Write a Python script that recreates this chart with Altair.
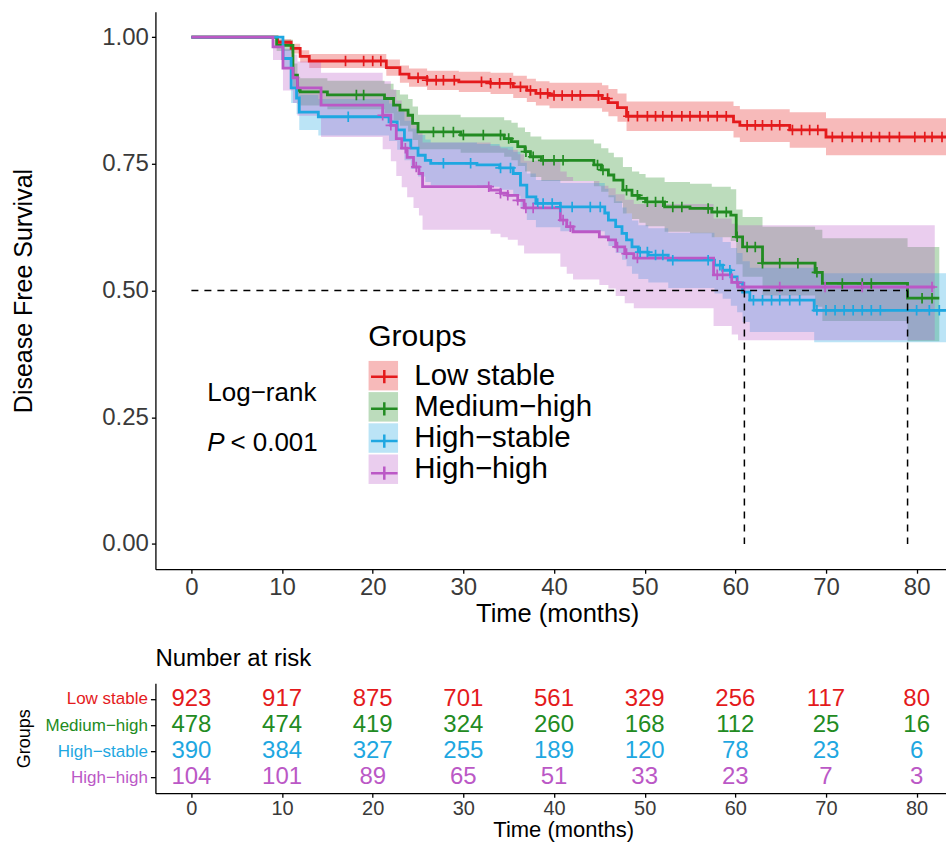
import altair as alt
import pandas as pd

FONT = "Liberation Sans"
groups = ["Low stable", "Medium−high", "High−stable", "High−high"]
keys = ["k1", "k2", "k3", "k4"]
colors = ["#E41A1C", "#228B22", "#1EA7E1", "#BB58C6"]

# ---- Kaplan-Meier steps ----
low_t = [0, 9.5, 11, 12, 13, 21.5, 23, 24, 26, 29.5, 33, 35.5, 37, 38, 39.5, 45.3, 46, 47, 48, 59.8, 60.5, 66, 70]
low_s = [1, 0.99, 0.978, 0.962, 0.953, 0.94, 0.927, 0.92, 0.915, 0.912, 0.909, 0.902, 0.895, 0.889, 0.885, 0.879, 0.871, 0.861, 0.844, 0.833, 0.826, 0.817, 0.803]
low_lo = [1, 0.983, 0.968, 0.950, 0.939, 0.924, 0.910, 0.902, 0.896, 0.892, 0.888, 0.880, 0.872, 0.865, 0.860, 0.853, 0.844, 0.833, 0.815, 0.802, 0.793, 0.782, 0.767]
low_up = [1, 0.996, 0.987, 0.974, 0.967, 0.956, 0.944, 0.938, 0.934, 0.932, 0.930, 0.924, 0.918, 0.913, 0.910, 0.905, 0.898, 0.889, 0.873, 0.864, 0.858, 0.852, 0.840]
low_end = 84
low_cens = [17, 19, 20, 20.9, 25, 26, 27, 27.8, 29, 32, 33, 34, 35.2, 36.3, 37.4, 38.5, 39.3, 40, 40.9, 42, 42.9, 44.9,
            45.9, 48.2, 49.2, 50.3, 51.2, 52, 53, 54.1, 55, 56.1, 57, 58, 59, 61.3, 62.2, 63, 64, 64.9, 66.3, 67.3,
            68.2, 69.1, 70.7, 71.8, 72.9, 74, 75, 75.9, 77, 78.1, 79.8, 80.9, 81.7, 82.8]

med_t = [0, 9.4, 11.2, 11.7, 12, 15, 21.3, 22.3, 23, 23.9, 24.4, 25, 29.7, 34.5, 35.3, 36, 36.8, 37.4, 38.6, 44.4, 45.2,
         46, 46.6, 47.6, 48.6, 49.4, 50.1, 52.2, 55, 57.4, 59.5, 60.1, 60.8, 63, 68.8, 69.6, 79]
med_s = [1, 0.984, 0.925, 0.895, 0.892, 0.886, 0.879, 0.866, 0.856, 0.846, 0.83, 0.813, 0.807, 0.8, 0.794, 0.784, 0.774,
         0.764, 0.757, 0.748, 0.738, 0.728, 0.718, 0.698, 0.688, 0.682, 0.675, 0.665, 0.662, 0.655, 0.649, 0.606, 0.586,
         0.554, 0.536, 0.514, 0.485]
med_lo = [1, 0.973, 0.902, 0.868, 0.865, 0.858, 0.85, 0.836, 0.825, 0.814, 0.797, 0.779, 0.772, 0.764, 0.757, 0.746,
          0.735, 0.724, 0.716, 0.706, 0.695, 0.684, 0.673, 0.652, 0.641, 0.634, 0.627, 0.616, 0.613, 0.605, 0.598, 0.552,
          0.527, 0.49, 0.468, 0.44, 0.40]
med_up = [1, 0.995, 0.948, 0.922, 0.919, 0.914, 0.908, 0.896, 0.887, 0.878, 0.863, 0.847, 0.842, 0.836, 0.831, 0.822,
          0.813, 0.804, 0.798, 0.79, 0.781, 0.772, 0.763, 0.744, 0.735, 0.73, 0.723, 0.714, 0.711, 0.705, 0.70, 0.66,
          0.645, 0.626, 0.62, 0.603, 0.586]
med_end = 82.5
med_cens = [18.2, 19, 26.7, 27.8, 28.9, 30, 32.2, 34.1, 35, 36.9, 37.7, 38.8, 40, 41, 44.8, 45.4, 48, 49.2, 50.3, 51.2,
            52, 53.1, 54.1, 57, 58, 59, 60.2, 61.3, 62.2, 63, 64.9, 66.9, 69, 71.8, 74, 75, 80.6, 81.7]

hs_t = [0, 10.1, 11, 11.6, 11.9, 14, 21.8, 22.7, 23.5, 24.2, 25, 25.8, 26.4, 31.5, 34, 35.5, 36.3, 37, 38, 40.7, 45.6,
        46, 46.8, 47.5, 48, 48.6, 49.3, 50.4, 52.6, 57.7, 58.6, 59.5, 60.2, 60.8, 61.6, 68.7]
hs_s = [1, 0.958, 0.90, 0.88, 0.852, 0.843, 0.833, 0.817, 0.797, 0.781, 0.767, 0.757, 0.751, 0.748, 0.742, 0.731, 0.708,
        0.685, 0.672, 0.665, 0.653, 0.639, 0.626, 0.613, 0.60, 0.586, 0.576, 0.57, 0.56, 0.55, 0.54, 0.527, 0.515, 0.497,
        0.481, 0.461]
hs_lo = [1, 0.938, 0.870, 0.848, 0.817, 0.806, 0.795, 0.778, 0.757, 0.740, 0.725, 0.714, 0.708, 0.705, 0.699, 0.687,
         0.663, 0.639, 0.625, 0.617, 0.602, 0.588, 0.574, 0.561, 0.548, 0.533, 0.523, 0.516, 0.505, 0.494, 0.484, 0.470,
         0.457, 0.438, 0.418, 0.398]
hs_up = [1, 0.976, 0.928, 0.911, 0.886, 0.878, 0.869, 0.854, 0.835, 0.820, 0.807, 0.798, 0.792, 0.789, 0.784, 0.774,
         0.752, 0.731, 0.718, 0.712, 0.701, 0.688, 0.676, 0.664, 0.652, 0.638, 0.629, 0.623, 0.614, 0.605, 0.596, 0.584,
         0.574, 0.558, 0.545, 0.534]
hs_end = 84
hs_cens = [17.3, 27.8, 30.8, 34.1, 35.2, 38.2, 38.8, 39.8, 40.7, 42, 44, 45.1, 49.5, 50.3, 51.2, 52, 53.1, 57, 58.3,
           59.4, 62, 63, 64, 64.9, 66, 67.1, 69, 70, 71, 72, 73, 74, 75, 76, 80, 81.4, 82.5]

hh_t = [0, 9, 10.1, 11.2, 11.7, 14.3, 21.1, 22, 22.6, 23.2, 23.8, 24.5, 25.1, 25.5, 33, 34.1, 34.9, 36, 36.7, 40.7, 41.4,
        42.1, 45, 46, 46.8, 47.8, 48.8, 57.6, 59.6, 60.3]
hh_s = [1, 0.981, 0.939, 0.92, 0.90, 0.866, 0.846, 0.826, 0.80, 0.781, 0.763, 0.744, 0.731, 0.705, 0.698, 0.692, 0.688,
        0.678, 0.663, 0.639, 0.626, 0.616, 0.606, 0.60, 0.586, 0.573, 0.564, 0.531, 0.516, 0.507]
hh_lo = [1, 0.955, 0.895, 0.870, 0.845, 0.803, 0.779, 0.755, 0.726, 0.704, 0.684, 0.663, 0.648, 0.620, 0.612, 0.605,
         0.600, 0.589, 0.573, 0.547, 0.533, 0.522, 0.511, 0.504, 0.489, 0.475, 0.465, 0.430, 0.413, 0.402]
hh_up = [1, 0.995, 0.977, 0.966, 0.952, 0.930, 0.913, 0.897, 0.875, 0.859, 0.843, 0.826, 0.815, 0.792, 0.786, 0.781,
         0.778, 0.769, 0.756, 0.735, 0.724, 0.716, 0.707, 0.702, 0.690, 0.679, 0.671, 0.642, 0.632, 0.629]
hh_end = 82
hh_cens = [21.1, 22, 23.6, 24.8, 32.8, 34.1, 34.9, 36, 36.9, 37.7, 41, 41.8, 47, 48, 49.2, 58, 58.6, 60.2, 61, 64.9,
           69.9, 74, 81.7]

# ---- Number at risk ----
risk_times = [0, 10, 20, 30, 40, 50, 60, 70, 80]
risk_low = [923, 917, 875, 701, 561, 329, 256, 117, 80]
risk_med = [478, 474, 419, 324, 260, 168, 112, 25, 16]
risk_hs = [390, 384, 327, 255, 189, 120, 78, 23, 6]
risk_hh = [104, 101, 89, 65, 51, 33, 23, 7, 3]

median_times = [61, 79]

# ---------------------------------------------------------------
series = [
    (low_t, low_s, low_lo, low_up, low_end, low_cens),
    (med_t, med_s, med_lo, med_up, med_end, med_cens),
    (hs_t, hs_s, hs_lo, hs_up, hs_end, hs_cens),
    (hh_t, hh_s, hh_lo, hh_up, hh_end, hh_cens),
]
curve_rows, cens_rows = [], []
for order, (t, s, lo, up, end, cens) in enumerate(series):
    g, k = groups[order], keys[order]
    for ti, si, li, ui in zip(t, s, lo, up):
        curve_rows.append(dict(Group=g, Key=k, order=order, t=ti, S=si, lo=li, up=ui))
    curve_rows.append(dict(Group=g, Key=k, order=order, t=end, S=s[-1], lo=lo[-1], up=up[-1]))
    for c in cens:
        idx = max(i for i, ti in enumerate(t) if ti <= c)
        cens_rows.append(dict(Group=g, Key=k, t=c, S=s[idx]))
curves = pd.DataFrame(curve_rows)
censors = pd.DataFrame(cens_rows)

risk_rows = []
for g, vals in zip(groups, [risk_low, risk_med, risk_hs, risk_hh]):
    for tt, v in zip(risk_times, vals):
        risk_rows.append(dict(Group=g, t=tt, n=v))
risk = pd.DataFrame(risk_rows)

med_h = pd.DataFrame({"t0": [0], "t1": [max(median_times)], "y": [0.5]})
med_v = pd.DataFrame({"t": median_times, "y0": [0.5] * len(median_times), "y1": [0.0] * len(median_times)})

XDOM = [-3.97, 83.24]
xscale = alt.Scale(domain=XDOM, nice=False, zero=False)
yscale = alt.Scale(domain=[-0.05, 1.05], nice=False, zero=False)
W = 791
H = 557.65

xaxis = alt.Axis(values=risk_times, title="Time (months)", labelFontSize=24, titleFontSize=25.5,
                 titleX=402, titleY=52, titleBaseline="alphabetic", titleAlign="center",
                 tickSize=4, labelPadding=2, labelFlush=False)
yaxis = alt.Axis(values=[0, 0.25, 0.5, 0.75, 1.0], format=".2f", title="Disease Free Survival",
                 labelFontSize=24, titleFontSize=25, titleAngle=270, titleX=-132, titleY=H / 2,
                 titleAlign="center", titleBaseline="middle", tickSize=4, labelPadding=3)

SYM = 870
fill_legend = alt.Legend(title="Groups", orient="none", legendX=213, legendY=310, direction="vertical",
                         titleFontSize=30, titleFontWeight="normal", titleColor="black", titlePadding=9,
                         labelFontSize=29.5, labelColor="black", labelOffset=16, labelLimit=400, rowPadding=1.2,
                         symbolType="square", symbolSize=SYM, symbolOpacity=0.3, symbolStrokeWidth=0)
stroke_legend = alt.Legend(title="Groups", orient="none", legendX=213, legendY=310, direction="vertical",
                           titleFontSize=30, titleFontWeight="normal", titleOpacity=0, titlePadding=9,
                           labelFontSize=29.5, labelExpr="''", labelOffset=16, rowPadding=1.2,
                           symbolType="M-0.9,0L0.9,0M0,-0.45L0,0.45", symbolSize=SYM, symbolStrokeWidth=2.5,
                           symbolOpacity=1)

stroke_scale = alt.Scale(domain=keys, range=colors)

base = alt.Chart(curves)
bands = base.mark_area(interpolate="step-after", opacity=0.3, clip=True).encode(
    x=alt.X("t:Q", scale=xscale, axis=xaxis),
    y=alt.Y("lo:Q", scale=yscale, axis=yaxis),
    y2="up:Q",
    fill=alt.Fill("Group:N", scale=alt.Scale(domain=groups, range=colors), legend=fill_legend),
    order="order:Q",
)
lines = base.mark_line(interpolate="step-after", strokeWidth=2.8, clip=True).encode(
    x=alt.X("t:Q", scale=xscale),
    y=alt.Y("S:Q", scale=yscale),
    stroke=alt.Stroke("Key:N", scale=stroke_scale, legend=stroke_legend),
)
cmarks = alt.Chart(censors).mark_point(shape="M-1,0L1,0M0,-1L0,1", filled=False, size=110,
                                       strokeWidth=1.7, opacity=1, clip=True).encode(
    x=alt.X("t:Q", scale=xscale),
    y=alt.Y("S:Q", scale=yscale),
    stroke=alt.Stroke("Key:N", scale=stroke_scale, legend=None),
)
hline = alt.Chart(med_h).mark_rule(color="black", strokeDash=[7, 6], strokeWidth=1.5).encode(
    x=alt.X("t0:Q", scale=xscale), x2="t1:Q", y=alt.Y("y:Q", scale=yscale))
vlines = alt.Chart(med_v).mark_rule(color="black", strokeDash=[7, 6], strokeWidth=1.5).encode(
    x=alt.X("t:Q", scale=xscale), y=alt.Y("y0:Q", scale=yscale), y2="y1:Q")

txt1 = alt.Chart(pd.DataFrame({"a": [0]})).mark_text(
    text="Log−rank", align="left", baseline="middle", fontSize=26, font=FONT, color="black").encode(
    x=alt.datum(1.76, scale=xscale), y=alt.datum(0.298, scale=yscale))
txt2 = alt.Chart(pd.DataFrame({"a": [0]})).mark_text(
    text="P", align="left", baseline="middle", fontSize=26, font=FONT, fontStyle="italic", color="black").encode(
    x=alt.datum(1.76, scale=xscale), y=alt.datum(0.199, scale=yscale))
txt3 = alt.Chart(pd.DataFrame({"a": [0]})).mark_text(
    text="< 0.001", align="left", baseline="middle", fontSize=26, font=FONT, color="black").encode(
    x=alt.datum(4.3, scale=xscale), y=alt.datum(0.199, scale=yscale))

main = alt.layer(bands, lines, cmarks, hline, vlines, txt1, txt2, txt3).properties(width=W, height=H)

label_expr = ("datum.value == '%s' ? '%s' : datum.value == '%s' ? '%s' : datum.value == '%s' ? '%s' : '%s'"
              % (groups[0], colors[0], groups[1], colors[1], groups[2], colors[2], colors[3]))

table = alt.Chart(risk).mark_text(fontSize=24, font=FONT, baseline="middle", align="center").encode(
    x=alt.X("t:Q", scale=xscale,
            axis=alt.Axis(values=risk_times, title="Time (months)", labelFontSize=20, titleFontSize=22,
                          titleX=408, titleY=43.5, titleBaseline="alphabetic", titleAlign="center",
                          tickSize=4, labelPadding=1, labelFlush=False)),
    y=alt.Y("Group:N", scale=alt.Scale(domain=groups, padding=0.6),
            axis=alt.Axis(title="Groups", titleFontSize=18, titleAngle=270, titleX=-130.5, titleY=55,
                          titleAlign="center", titleBaseline="middle", labelFontSize=17,
                          labelColor={"expr": label_expr}, tickSize=5, labelPadding=3)),
    text="n:Q",
    color=alt.Color("Group:N", scale=alt.Scale(domain=groups, range=colors), legend=None),
).properties(width=W, height=110,
             title=alt.TitleParams("Number at risk", anchor="start", frame="group", fontSize=24,
                                   fontWeight="normal", font=FONT, color="black", baseline="bottom",
                                   offset=-12))

chart = alt.vconcat(main, table, spacing=113.7, bounds="flush").properties(
    padding={"left": 10.5, "top": 11.65, "right": 0, "bottom": 0}
).configure(font=FONT).configure_view(strokeWidth=0).configure_axis(
    grid=False, domainColor="black", tickColor="black", domainWidth=1.3, tickWidth=1.3,
    labelColor="#3a3a3a", titleColor="black", titleFontWeight="normal", labelFont=FONT, titleFont=FONT)

chart.save("out.html", embed_options={"renderer": "svg", "actions": False})
